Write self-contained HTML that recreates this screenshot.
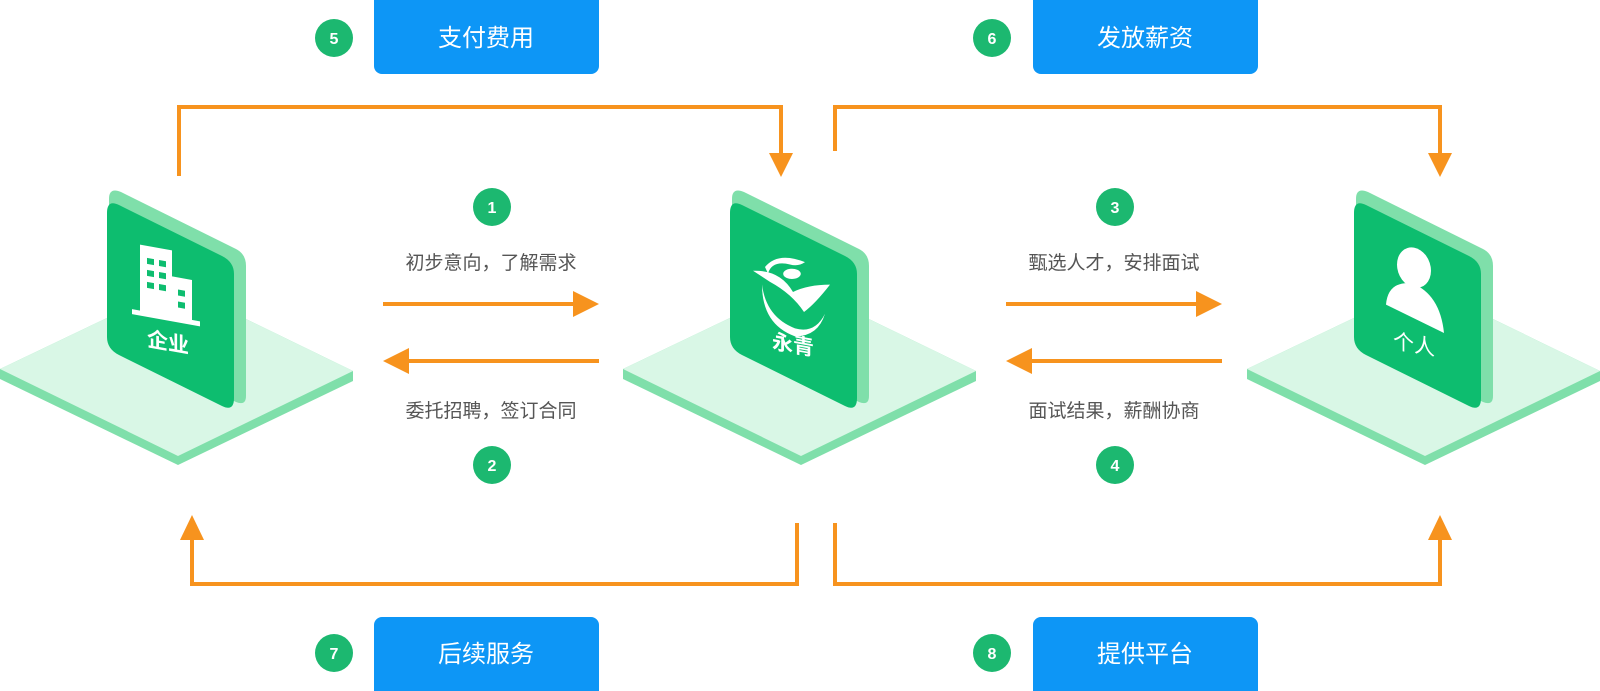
<!DOCTYPE html>
<html><head><meta charset="utf-8">
<style>
html,body{margin:0;padding:0;background:#fff;}
body{width:1600px;height:691px;overflow:hidden;position:relative;font-family:"Liberation Sans","Noto Sans CJK SC",sans-serif;}
</style></head>
<body>
<svg width="1600" height="691" viewBox="0 0 1600 691" xmlns="http://www.w3.org/2000/svg" style="position:absolute;left:0;top:0">
<defs>
<g id="unit">
  <polygon points="0,369 176,285 353,371 353,381 178,465 0,379" fill="#7fdfaa"/>
  <polygon points="0,369 176,285 353,371 178,456" fill="#d9f7e6"/>
  <path d="M121,192 L236,249 Q246,254 246,266 L246,396 Q246,406 236,402 L121,345 Q109,339 109,329 L109,199 Q109,187 121,192 Z" fill="#7fdfaa"/>
  <path d="M119,205 L222,256 Q234,262 234,274 L234,398 Q234,412 222,406 L119,355 Q107,349 107,337 L107,213 Q107,199 119,205 Z" fill="#0dbd6f"/>
</g>
</defs>

<use href="#unit" x="0" y="0"/>
<use href="#unit" x="623" y="0"/>
<use href="#unit" x="1247" y="0"/>

<g transform="translate(0,10)">
<g transform="translate(170,290) matrix(1,0.18,0,1,0,0) translate(-170,-290)" fill="#fff">
  <rect x="140" y="240" width="32" height="68"/>
  <rect x="164" y="266" width="28" height="42"/>
  <rect x="132" y="306" width="68" height="5"/>
  <g fill="#0dbd6f">
    <rect x="147" y="252" width="7" height="6"/><rect x="159" y="252" width="7" height="6"/>
    <rect x="147" y="264" width="7" height="6"/><rect x="159" y="264" width="7" height="6"/>
    <rect x="147" y="276" width="7" height="6"/><rect x="159" y="276" width="7" height="6"/>
    <rect x="178" y="278" width="7" height="6"/><rect x="178" y="290" width="7" height="6"/>
  </g>
  <text x="168" y="340" font-size="21" font-weight="bold" text-anchor="middle" font-family="Liberation Sans,Noto Sans CJK SC,sans-serif">企业</text>
</g>
<g transform="translate(793,290) matrix(1,0.18,0,1,0,0) translate(-793,-290)" fill="#fff">
  <path d="M765,262 Q778,244 805,250 Q798,256 790,255 Q772,254 768,268 Z"/>
  <path d="M753,268 Q780,262 793,282 Q808,272 830,268 Q815,290 804,300 Q792,284 770,276 Z"/>
  <path d="M762,280 Q766,312 795,318 Q815,320 825,298 Q818,322 795,326 Q762,320 762,280 Z"/>
  <ellipse cx="792" cy="264" rx="9" ry="5" transform="rotate(-15 792 264)"/>
  <text x="793" y="342" font-size="21" font-weight="bold" text-anchor="middle" font-family="Liberation Sans,Noto Sans CJK SC,sans-serif">永青</text>
</g>
<g transform="translate(1416,290) matrix(1,0.18,0,1,0,0) translate(-1416,-290)" fill="#fff">
  <ellipse cx="1414" cy="258" rx="17" ry="20"/>
  <path d="M1386,300 Q1388,276 1412,274 Q1440,280 1444,318 Z"/>
  <text x="1414" y="342" font-size="21" text-anchor="middle" font-family="Liberation Sans,Noto Sans CJK SC,sans-serif">个人</text>
</g>
</g>

<g fill="none" stroke="#f7931e" stroke-width="4">
  <polyline points="179,176 179,107 781,107 781,156"/>
  <polyline points="835,151 835,107 1440,107 1440,156"/>
  <polyline points="797,523 797,584 192,584 192,536"/>
  <polyline points="835,523 835,584 1440,584 1440,536"/>
  <line x1="383" y1="304" x2="576" y2="304"/>
  <line x1="404" y1="361" x2="599" y2="361"/>
  <line x1="1006" y1="304" x2="1199" y2="304"/>
  <line x1="1027" y1="361" x2="1222" y2="361"/>
</g>
<g fill="#f7931e">
  <polygon points="781,177 769,153 793,153"/>
  <polygon points="1440,177 1428,153 1452,153"/>
  <polygon points="192,515 180,540 204,540"/>
  <polygon points="1440,515 1428,540 1452,540"/>
  <polygon points="599,304 573,291 573,317"/>
  <polygon points="383,361 409,348 409,374"/>
  <polygon points="1222,304 1196,291 1196,317"/>
  <polygon points="1006,361 1032,348 1032,374"/>
</g>

<g font-size="19" fill="#555" text-anchor="middle" font-family="Liberation Sans,Noto Sans CJK SC,sans-serif">
  <text x="491" y="269">初步意向，了解需求</text>
  <text x="491" y="417">委托招聘，签订合同</text>
  <text x="1114" y="269">甄选人才，安排面试</text>
  <text x="1114" y="417">面试结果，薪酬协商</text>
</g>

<g fill="#1cb870">
  <circle cx="492" cy="207" r="19"/><circle cx="492" cy="465" r="19"/>
  <circle cx="1115" cy="207" r="19"/><circle cx="1115" cy="465" r="19"/>
  <circle cx="334" cy="38" r="19"/><circle cx="992" cy="38" r="19"/>
  <circle cx="334" cy="653" r="19"/><circle cx="992" cy="653" r="19"/>
</g>
<g fill="#fff" font-size="16" font-weight="bold" text-anchor="middle" font-family="Liberation Sans,sans-serif">
  <text x="492" y="213">1</text><text x="492" y="471">2</text>
  <text x="1115" y="213">3</text><text x="1115" y="471">4</text>
  <text x="334" y="44">5</text><text x="992" y="44">6</text>
  <text x="334" y="659">7</text><text x="992" y="659">8</text>
</g>

<g fill="#0d96f6">
  <rect x="374" y="-8" width="225" height="82" rx="8"/>
  <rect x="1033" y="-8" width="225" height="82" rx="8"/>
  <rect x="374" y="617" width="225" height="82" rx="8"/>
  <rect x="1033" y="617" width="225" height="82" rx="8"/>
</g>
<g fill="#fff" font-size="24" text-anchor="middle" font-family="Liberation Sans,Noto Sans CJK SC,sans-serif">
  <text x="486" y="46">支付费用</text>
  <text x="1145" y="46">发放薪资</text>
  <text x="486" y="662">后续服务</text>
  <text x="1145" y="662">提供平台</text>
</g>
</svg>
</body></html>
